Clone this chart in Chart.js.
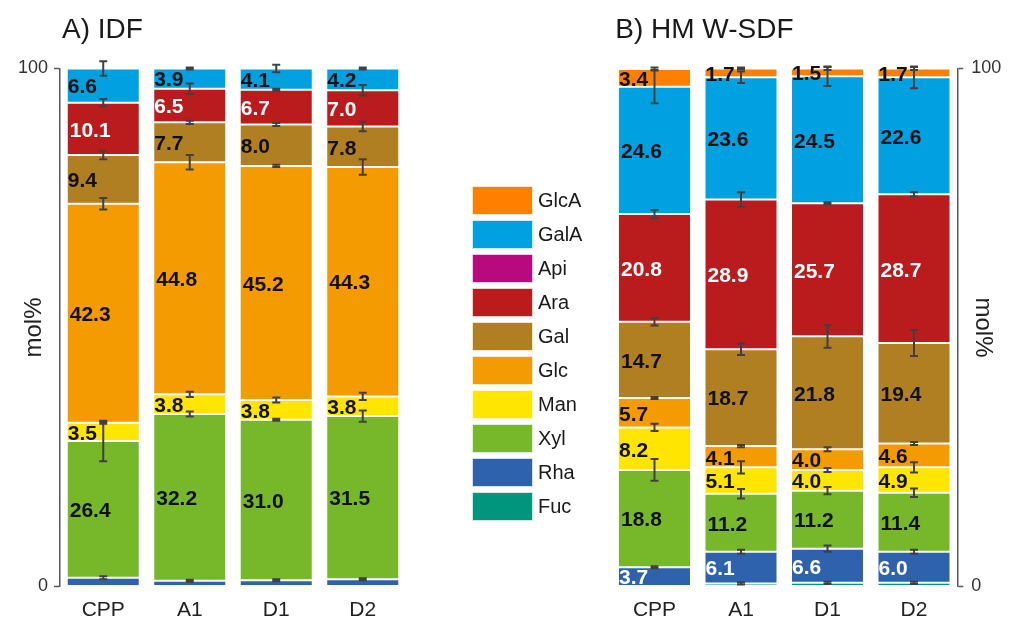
<!DOCTYPE html>
<html>
<head>
<meta charset="utf-8">
<title>Monosaccharide composition of IDF and HMW-SDF</title>
<script src="https://cdn.jsdelivr.net/npm/chart.js@4.4.1/dist/chart.umd.min.js"></script>
<style>
  html, body { margin: 0; padding: 0; background: #fff; }
  #wrap { position: relative; width: 1011px; height: 622px; overflow: hidden;
          font-family: "Liberation Sans", Arial, sans-serif; }
  #idf { position: absolute; left: 0; top: 0; }
  #sdf { position: absolute; left: 560px; top: 0; }
  #legend { position: absolute; left: 472px; top: 186px; }
  .item { height: 34px; display: flex; align-items: flex-start; }
  .sw { width: 61px; height: 29px; box-sizing: border-box; border: 1px solid rgba(255,255,255,0.8); }
  .lb { margin-left: 5px; font-size: 20px; line-height: 29px; color: #1a1a1a; }
</style>
</head>
<body>
<div id="wrap">
  <canvas id="idf" width="440" height="622" style="width:440px;height:622px"></canvas>
  <canvas id="sdf" width="451" height="622" style="width:451px;height:622px"></canvas>
  <div id="legend"></div>
</div>
<script>
// Samples on the x axis
const categories = ['CPP', 'A1', 'D1', 'D2'];

// Sugars in stacking order, bottom to top
const sugars = ['Fuc', 'Rha', 'Xyl', 'Man', 'Glc', 'Gal', 'Ara', 'Api', 'GalA', 'GlcA'];
const sugarColors = ['#00957C', '#2F62AD', '#77B82A', '#FFE500', '#F39B00',
                     '#B07F22', '#BA1B1D', '#B8097E', '#00A0E1', '#FF8000'];

// Y axis tick values
const yTicks = [0, 100];

// A) IDF, mol%
const idfFuc  = [0, 0, 0, 0];
const idfRha  = [1.7, 1.1, 1.2, 1.4];
const idfXyl  = [26.4, 32.2, 31.0, 31.5];
const idfMan  = [3.5, 3.8, 3.8, 3.8];
const idfGlc  = [42.3, 44.8, 45.2, 44.3];
const idfGal  = [9.4, 7.7, 8.0, 7.8];
const idfAra  = [10.1, 6.5, 6.7, 7.0];
const idfApi  = [0, 0, 0, 0];
const idfGalA = [6.6, 3.9, 4.1, 4.2];
const idfGlcA = [0, 0, 0, 0];

// A) IDF, standard deviations
const idfFucSd  = [0, 0, 0, 0];
const idfRhaSd  = [0.3, 0.2, 0.2, 0.2];
const idfXylSd  = [3.9, 0.5, 0.2, 1.1];
const idfManSd  = [0.2, 0.5, 0.5, 0.7];
const idfGlcSd  = [1.1, 1.4, 0.2, 1.5];
const idfGalSd  = [0.8, 0.3, 0.3, 0.9];
const idfAraSd  = [0.7, 1.0, 0.2, 1.0];
const idfApiSd  = [0, 0, 0, 0];
const idfGalASd = [1.4, 0.2, 0.7, 0.2];
const idfGlcASd = [0, 0, 0, 0];

// B) HMW-SDF, mol%
const sdfFuc  = [0, 0.6, 0.7, 0.7];
const sdfRha  = [3.7, 6.1, 6.6, 6.0];
const sdfXyl  = [18.8, 11.2, 11.2, 11.4];
const sdfMan  = [8.2, 5.1, 4.0, 4.9];
const sdfGlc  = [5.7, 4.1, 4.0, 4.6];
const sdfGal  = [14.7, 18.7, 21.8, 19.4];
const sdfAra  = [20.8, 28.9, 25.7, 28.7];
const sdfApi  = [0, 0, 0, 0];
const sdfGalA = [24.6, 23.6, 24.5, 22.6];
const sdfGlcA = [3.4, 1.7, 1.5, 1.7];

// B) HMW-SDF, standard deviations
const sdfFucSd  = [0, 0.2, 0.2, 0.2];
const sdfRhaSd  = [0.2, 0.4, 0.6, 0.4];
const sdfXylSd  = [2.1, 0.9, 0.7, 0.8];
const sdfManSd  = [0.7, 1.2, 0.4, 1.0];
const sdfGlcSd  = [0.2, 0.2, 0.4, 0.3];
const sdfGalSd  = [0.7, 1.1, 2.2, 2.5];
const sdfAraSd  = [0.8, 1.4, 0.2, 0.4];
const sdfApiSd  = [0, 0, 0, 0];
const sdfGalASd = [3.2, 1.1, 1.9, 2.1];
const sdfGlcASd = [0.3, 0.2, 0.3, 0.3];

const FONT = '"Liberation Sans", Arial, sans-serif';

// Value labels written inside the stacked segments
const segmentLabels = {
  id: 'segmentLabels',
  afterDatasetsDraw(chart, args, opts) {
    const ctx = chart.ctx;
    ctx.save();
    ctx.font = 'bold 21px ' + FONT;
    ctx.textAlign = 'left';
    ctx.textBaseline = 'middle';
    chart.data.datasets.forEach((ds, i) => {
      if (!opts.show.includes(ds.label)) return;
      const meta = chart.getDatasetMeta(i);
      ds.data.forEach((v, j) => {
        if (v == null) return;
        const bar = meta.data[j].getProps(['x', 'y', 'base', 'width'], true);
        const text = v.toFixed(1);
        const x = bar.x - bar.width / 2 + (text.length >= 4 ? 3 : 1);
        const y = (bar.y + bar.base) / 2 + 2;
        ctx.fillStyle = opts.light.includes(ds.label) ? '#ffffff' : '#111111';
        ctx.fillText(text, x, y);
      });
    });
    ctx.restore();
  }
};

// Error bars centred on the top edge of every segment
const errorBars = {
  id: 'errorBars',
  afterDatasetsDraw(chart, args, opts) {
    const ctx = chart.ctx;
    const yScale = chart.scales.y;
    ctx.save();
    ctx.strokeStyle = opts.color;
    ctx.lineWidth = opts.width;
    chart.data.labels.forEach((_, j) => {
      let cum = 0;
      chart.data.datasets.forEach((ds, i) => {
        const v = ds.data[j];
        if (v == null) return;
        cum += v;
        const sd = opts.sd[i][j];
        if (!sd) return;
        const x = chart.getDatasetMeta(i).data[j].x;
        const yHi = yScale.getPixelForValue(cum + sd);
        const yLo = yScale.getPixelForValue(cum - sd);
        const h = opts.cap / 2;
        ctx.beginPath();
        ctx.moveTo(x, yHi); ctx.lineTo(x, yLo);
        ctx.moveTo(x - h, yHi); ctx.lineTo(x + h, yHi);
        ctx.moveTo(x - h, yLo); ctx.lineTo(x + h, yLo);
        ctx.stroke();
      });
    });
    ctx.restore();
  }
};

// Panel heading placed above the plot area
const panelTitle = {
  id: 'panelTitle',
  afterDraw(chart, args, opts) {
    const ctx = chart.ctx;
    ctx.save();
    ctx.font = '28px ' + FONT;
    ctx.fillStyle = '#1a1a1a';
    ctx.textAlign = 'left';
    ctx.textBaseline = 'middle';
    ctx.fillText(opts.text, chart.chartArea.left + opts.dx, opts.y);
    ctx.restore();
  }
};

function buildPanel(canvasId, values, errors, cfg) {
  const datasets = sugars.map((name, i) => ({
    label: name,
    data: values[i].map(v => (v > 0 ? v : null)),
    backgroundColor: sugarColors[i],
    borderColor: 'rgba(255,255,255,0.7)',
    borderWidth: 1,
    borderSkipped: false,
    barPercentage: 0.844,
    categoryPercentage: 1,
    stack: 'mol'
  }));

  return new Chart(document.getElementById(canvasId), {
    type: 'bar',
    data: { labels: categories, datasets },
    plugins: [segmentLabels, errorBars, panelTitle],
    options: {
      responsive: false,
      animation: false,
      devicePixelRatio: 1,
      layout: { padding: cfg.padding },
      plugins: {
        legend: { display: false },
        tooltip: { enabled: false },
        title: { display: false },
        segmentLabels: { show: cfg.labelled, light: ['Ara', 'Rha'] },
        errorBars: { sd: errors, color: '#404040', width: 2, cap: 8 },
        panelTitle: { text: cfg.title, dx: cfg.titleDx, y: 30 }
      },
      scales: {
        x: {
          stacked: true,
          grid: { display: false },
          border: { display: false },
          ticks: { font: { family: FONT, size: 21 }, color: '#222', padding: 3 },
          afterFit: s => { s.height = 35.5; }
        },
        y: {
          stacked: true,
          position: cfg.axisSide,
          min: 0,
          max: 100,
          afterBuildTicks: s => { s.ticks = yTicks.map(v => ({ value: v })); },
          grid: { drawOnChartArea: false, drawTicks: true, tickLength: 6,
                  tickColor: '#595959', tickWidth: 1.5 },
          border: { display: true, color: '#595959', width: 1.5 },
          ticks: { font: { family: FONT, size: 18 }, color: '#333', padding: cfg.tickPad },
          title: { display: true, text: 'mol%', color: '#222',
                   font: { family: FONT, size: 24 }, padding: { top: cfg.titlePad, bottom: 0 } },
          afterFit: s => { s.width = cfg.axisWidth; }
        }
      }
    }
  });
}

buildPanel('idf',
  [idfFuc, idfRha, idfXyl, idfMan, idfGlc, idfGal, idfAra, idfApi, idfGalA, idfGlcA],
  [idfFucSd, idfRhaSd, idfXylSd, idfManSd, idfGlcSd, idfGalSd, idfAraSd, idfApiSd, idfGalASd, idfGlcASd],
  {
    title: 'A) IDF', titleDx: 2,
    axisSide: 'left', axisWidth: 60, tickPad: 6, titlePad: 20,
    padding: { top: 68.5, right: 34, bottom: 0, left: 0 },
    labelled: ['Xyl', 'Man', 'Glc', 'Gal', 'Ara', 'GalA']
  });

buildPanel('sdf',
  [sdfFuc, sdfRha, sdfXyl, sdfMan, sdfGlc, sdfGal, sdfAra, sdfApi, sdfGalA, sdfGlcA],
  [sdfFucSd, sdfRhaSd, sdfXylSd, sdfManSd, sdfGlcSd, sdfGalSd, sdfAraSd, sdfApiSd, sdfGalASd, sdfGlcASd],
  {
    title: 'B) HM W-SDF', titleDx: 4,
    axisSide: 'right', axisWidth: 53.75, tickPad: 8, titlePad: 13.5,
    padding: { top: 68.5, right: 0, bottom: 0, left: 51.25 },
    labelled: ['Rha', 'Xyl', 'Man', 'Glc', 'Gal', 'Ara', 'GalA', 'GlcA']
  });

// Shared legend, top entry is the top of the stack
const legend = document.getElementById('legend');
sugars.slice().reverse().forEach(name => {
  const i = sugars.indexOf(name);
  const item = document.createElement('div');
  item.className = 'item';
  const sw = document.createElement('div');
  sw.className = 'sw';
  sw.style.background = sugarColors[i];
  const lb = document.createElement('div');
  lb.className = 'lb';
  lb.textContent = name;
  item.appendChild(sw);
  item.appendChild(lb);
  legend.appendChild(item);
});
</script>
</body>
</html>
